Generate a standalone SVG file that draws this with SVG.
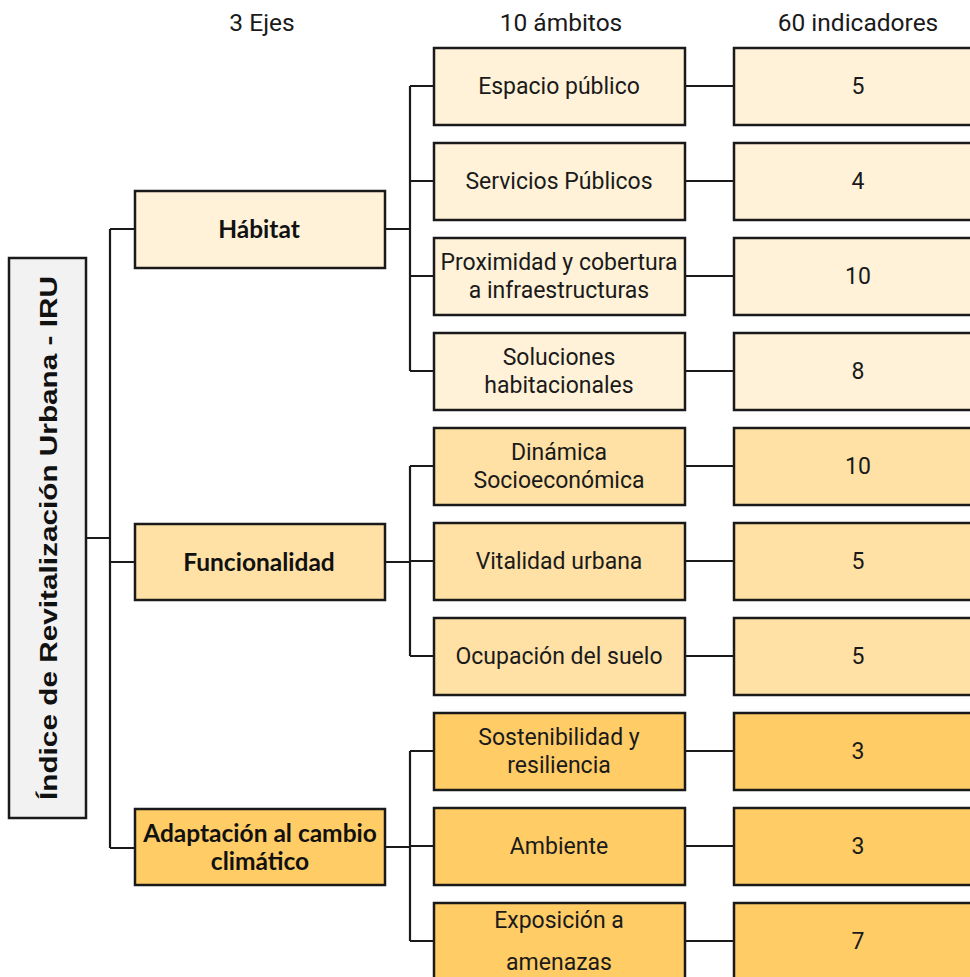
<svg xmlns="http://www.w3.org/2000/svg" width="970" height="977" viewBox="0 0 970 977">
<style>
.box{stroke:#1a1a1a;stroke-width:2.5}
.h{fill:#FFF2D8}
.f{fill:#FFE1A6}
.a{fill:#FFCC66}
.t{font-family:Roboto,"Liberation Sans",sans-serif;font-size:23px;fill:#1a1a1a;text-anchor:middle;dominant-baseline:central}
.hd{font-size:24.5px}
.b{font-family:Lato,"Liberation Sans",sans-serif;font-size:24.5px;font-weight:bold;fill:#111;text-anchor:middle;dominant-baseline:central}
.c{fill:none;stroke:#1a1a1a;stroke-width:2.2}
</style>
<rect width="970" height="977" fill="#fff"/>
<g id="headers">
<text class="t hd" x="262" y="22">3 Ejes</text>
<text class="t hd" x="561" y="22">10 ámbitos</text>
<text class="t hd" x="858" y="22">60 indicadores</text>
</g>
<g id="connectors">
<path class="c" d="M86 538H110M110 229V848M110 229H135M110 562H135M110 848H135"/>
<path class="c" d="M385 229H410M410 86V371M410 86H434M410 181H434M410 276H434M410 371H434"/>
<path class="c" d="M385 562H410M410 466V656M410 466H434M410 561H434M410 656H434"/>
<path class="c" d="M385 847H410M410 751V941M410 751H434M410 846H434M410 941H434"/>
<path class="c" d="M685 86H734M685 181H734M685 276H734M685 371H734M685 466H734M685 561H734M685 656H734M685 751H734M685 846H734M685 941H734"/>
</g>
<g id="root">
<rect class="box" x="9" y="258" width="77" height="560" fill="#F2F2F2"/>
<text transform="translate(48 538) rotate(-90)" font-family="'Liberation Sans',Arial,sans-serif" font-size="24" font-weight="bold" fill="#111" text-anchor="middle" dominant-baseline="central" textLength="524" lengthAdjust="spacingAndGlyphs">Índice de Revitalización Urbana - IRU</text>
</g>
<g id="eje-habitat"><rect class="box h" x="135" y="191" width="250" height="77"/><text class="b" x="259" y="228">Hábitat</text></g>
<g id="eje-funcionalidad"><rect class="box f" x="135" y="524" width="250" height="76"/><text class="b" x="259" y="561">Funcionalidad</text></g>
<g id="eje-adaptacion"><rect class="box a" x="135" y="809" width="250" height="76"/><text class="b" x="260" y="832">Adaptación al cambio</text><text class="b" x="260" y="860">climático</text></g>

<g id="amb-espacio"><rect class="box h" x="434" y="48" width="251" height="77"/><text class="t" x="559" y="86">Espacio público</text></g>
<g id="amb-servicios"><rect class="box h" x="434" y="143" width="251" height="77"/><text class="t" x="559" y="181">Servicios Públicos</text></g>
<g id="amb-proximidad"><rect class="box h" x="434" y="238" width="251" height="77"/><text class="t" x="559" y="262">Proximidad y cobertura</text><text class="t" x="559" y="290">a infraestructuras</text></g>
<g id="amb-soluciones"><rect class="box h" x="434" y="333" width="251" height="77"/><text class="t" x="559" y="357">Soluciones</text><text class="t" x="559" y="385">habitacionales</text></g>
<g id="amb-dinamica"><rect class="box f" x="434" y="428" width="251" height="77"/><text class="t" x="559" y="452">Dinámica</text><text class="t" x="559" y="480">Socioeconómica</text></g>
<g id="amb-vitalidad"><rect class="box f" x="434" y="523" width="251" height="77"/><text class="t" x="559" y="561">Vitalidad urbana</text></g>
<g id="amb-ocupacion"><rect class="box f" x="434" y="618" width="251" height="77"/><text class="t" x="559" y="656">Ocupación del suelo</text></g>
<g id="amb-sostenibilidad"><rect class="box a" x="434" y="713" width="251" height="77"/><text class="t" x="559" y="737">Sostenibilidad y</text><text class="t" x="559" y="765">resiliencia</text></g>
<g id="amb-ambiente"><rect class="box a" x="434" y="808" width="251" height="77"/><text class="t" x="559" y="846">Ambiente</text></g>
<g id="amb-exposicion"><rect class="box a" x="434" y="903" width="251" height="80"/><text class="t" x="559" y="920">Exposición a</text><text class="t" x="559" y="962">amenazas</text></g>

<g id="ind-1"><rect class="box h" x="734" y="48" width="250" height="77"/><text class="t" x="858" y="86">5</text></g>
<g id="ind-2"><rect class="box h" x="734" y="143" width="250" height="77"/><text class="t" x="858" y="181">4</text></g>
<g id="ind-3"><rect class="box h" x="734" y="238" width="250" height="77"/><text class="t" x="858" y="276">10</text></g>
<g id="ind-4"><rect class="box h" x="734" y="333" width="250" height="77"/><text class="t" x="858" y="371">8</text></g>
<g id="ind-5"><rect class="box f" x="734" y="428" width="250" height="77"/><text class="t" x="858" y="466">10</text></g>
<g id="ind-6"><rect class="box f" x="734" y="523" width="250" height="77"/><text class="t" x="858" y="561">5</text></g>
<g id="ind-7"><rect class="box f" x="734" y="618" width="250" height="77"/><text class="t" x="858" y="656">5</text></g>
<g id="ind-8"><rect class="box a" x="734" y="713" width="250" height="77"/><text class="t" x="858" y="751">3</text></g>
<g id="ind-9"><rect class="box a" x="734" y="808" width="250" height="77"/><text class="t" x="858" y="846">3</text></g>
<g id="ind-10"><rect class="box a" x="734" y="903" width="250" height="80"/><text class="t" x="858" y="941">7</text></g>
</svg>
